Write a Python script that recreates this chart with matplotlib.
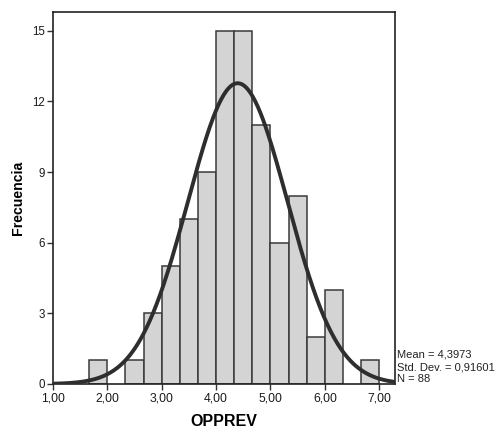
import numpy as np
import matplotlib
matplotlib.use("Agg")
import matplotlib.pyplot as plt

# Histogram data (bin width 1/3 starting at 1,00)
bin_start = 1.0
bin_width = 1.0 / 3.0
counts = [0, 0, 1, 0, 1, 3, 5, 7, 9, 15, 15, 11, 6, 8, 2, 4, 0, 1]
mean = 4.3973
std = 0.91601
n = 88
xticks = [1, 2, 3, 4, 5, 6, 7]
xticklabels = ["1,00", "2,00", "3,00", "4,00", "5,00", "6,00", "7,00"]
yticks = [0, 3, 6, 9, 12, 15]

plt.rcParams['font.family'] = ['Liberation Sans', 'DejaVu Sans']

fig = plt.figure(figsize=(4.98, 4.30), dpi=100)
ax = fig.add_axes([53/498, 1-384/430, (395-53)/498, (384-12)/430])

edges = bin_start + bin_width * np.arange(len(counts) + 1)
lefts = edges[:-1]
for l, c in zip(lefts, counts):
    if c > 0:
        ax.bar(l, c, width=bin_width, align='edge', color='#d4d4d4',
               edgecolor='#3a3a3a', linewidth=1.1, zorder=2)

xs = np.linspace(1.0, 7.29, 400)
ys = n * bin_width / (std * np.sqrt(2 * np.pi)) * np.exp(-0.5 * ((xs - mean) / std) ** 2)
ax.plot(xs, ys, color='#2e2e2e', linewidth=2.8, zorder=3, solid_capstyle='round')

ax.set_xlim(1.0, 7.29)
ax.set_ylim(0, 15.8)
ax.set_xticks(xticks)
ax.set_xticklabels(xticklabels, fontsize=8.8, color='#1a1a1a')
ax.set_yticks(yticks)
ax.set_yticklabels([str(v) for v in yticks], fontsize=8.3, color='#1a1a1a')
ax.tick_params(direction='out', length=4, width=1, color='#333333', pad=2)
for s in ax.spines.values():
    s.set_color('#222222')
    s.set_linewidth(1.2)

ax.set_xlabel("OPPREV", fontsize=11.5, fontweight='bold', labelpad=7)
ax.set_ylabel("Frecuencia", fontsize=10.2, fontweight='bold', labelpad=5)

fig.text(397/498, 1-367/430, "Mean = 4,3973\nStd. Dev. = 0,91601\nN = 88",
         fontsize=8.0, va='center', ha='left', linespacing=1.3, color='#222222')

fig.savefig("out.png", dpi=100)
